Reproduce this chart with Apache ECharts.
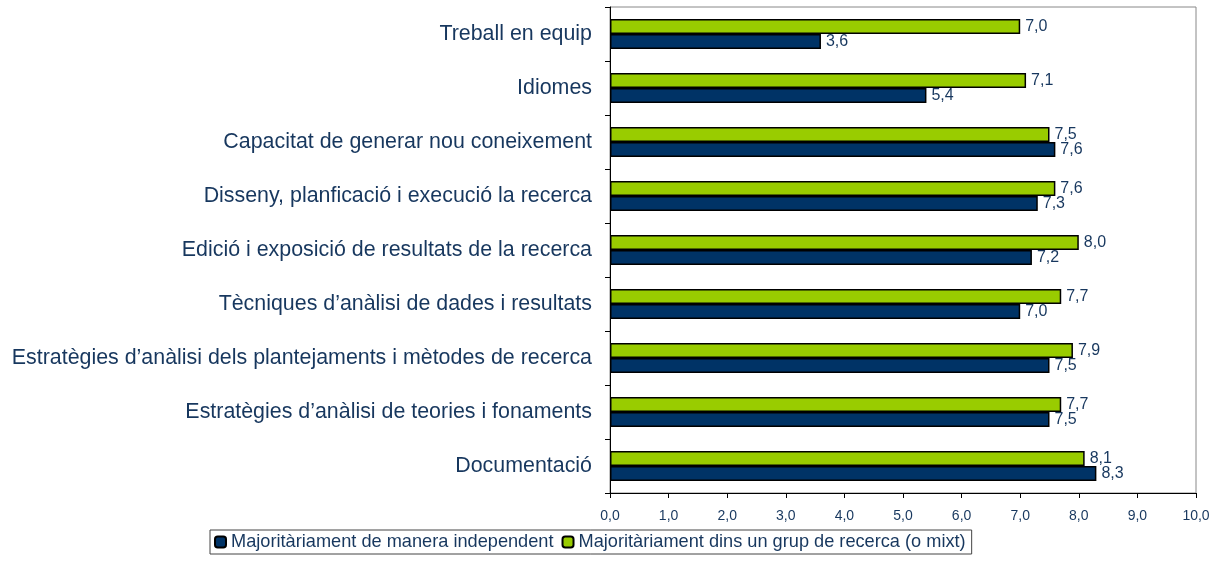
<!DOCTYPE html>
<html><head><meta charset="utf-8">
<script src="https://cdn.jsdelivr.net/npm/echarts@6/dist/echarts.min.js"></script>
<style>html,body{margin:0;padding:0;background:#fff}#c{width:1225px;height:588px}</style>
</head><body><div id="c"></div>
<script>
const categories = [
  "Documentació",
  "Estratègies d’anàlisi de teories i fonaments",
  "Estratègies d’anàlisi dels plantejaments i mètodes de recerca",
  "Tècniques d’anàlisi de dades i resultats",
  "Edició i exposició de resultats de la recerca",
  "Disseny, planficació i execució la recerca",
  "Capacitat de generar nou coneixement",
  "Idiomes",
  "Treball en equip"
];
const independent = [8.3, 7.5, 7.5, 7.0, 7.2, 7.3, 7.6, 5.4, 3.6];
const grup = [8.1, 7.7, 7.9, 7.7, 8.0, 7.6, 7.5, 7.1, 7.0];
const seriesNames = ["Majoritàriament de manera independent", "Majoritàriament dins un grup de recerca (o mixt)"];
const navy = '#17375E';
const fmt = v => Number(v).toFixed(1).replace('.', ',');
const chart = echarts.init(document.getElementById('c'));
const lbl = {show:true, position:'right', distance:5, color:navy, fontFamily:'Liberation Sans', fontSize:16, formatter:p=>fmt(p.value)};
chart.setOption({
  animation:false,
  textStyle:{fontFamily:'Liberation Sans'},
  grid:{left:610, right:29, top:7, bottom:95, show:true, borderColor:'#888', borderWidth:1, containLabel:false},
  legend:{
    bottom:34, left:210, itemWidth:11, itemHeight:11, itemGap:8,
    borderColor:'#444', borderWidth:1, padding:[3,6,3,4],
    textStyle:{color:navy, fontSize:18.2, padding:[0,0,0,0]},
    data:seriesNames
  },
  xAxis:{type:'value', min:0, max:10, interval:1,
    axisLine:{show:true, lineStyle:{color:'#000'}},
    axisTick:{show:true, length:5, lineStyle:{color:'#000'}},
    splitLine:{show:false},
    axisLabel:{color:navy, fontSize:14, margin:16, formatter:v=>fmt(v)}
  },
  yAxis:{type:'category', data:categories,
    axisLine:{show:true, lineStyle:{color:'#000'}},
    axisTick:{show:true, length:5, lineStyle:{color:'#000'}},
    axisLabel:{color:navy, fontSize:21.4, margin:18}
  },
  series:[
    {name:seriesNames[1], type:'bar', data:grup, barWidth:15, barGap:'0%', barCategoryGap:'44%',
     itemStyle:{color:'#99CC00', borderColor:'#000', borderWidth:1.5}, label:lbl},
    {name:seriesNames[0], type:'bar', data:independent, barWidth:15, barGap:'0%', barCategoryGap:'44%',
     itemStyle:{color:'#003366', borderColor:'#000', borderWidth:1.5}, label:lbl}
  ]
});
</script></body></html>
